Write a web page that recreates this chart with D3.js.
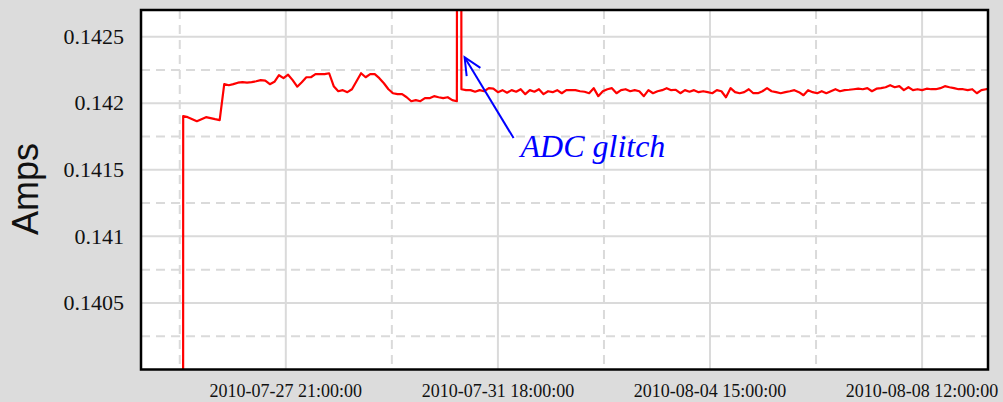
<!DOCTYPE html>
<html>
<head>
<meta charset="utf-8">
<script src="https://cdn.jsdelivr.net/npm/d3@7"></script>
<style>
  body { margin: 0; background: #dcdcdc; }
  svg { display: block; }
</style>
</head>
<body>
<svg width="1003" height="402"></svg>
<script>
// readings every 2 hours from 2010-07-25 22:00 (UTC)
const startTime = Date.UTC(2010, 6, 25, 22, 0);
const stepHours = 2;
const amps = [
  0, 0.141903, 0.141895, 0.14188, 0.141865, 0.14188, 0.141895, 0.141888, 0.14188, 0.141873,
  0.142143, 0.142135, 0.142143, 0.142154, 0.142158, 0.142154, 0.142158, 0.142165, 0.142173, 0.142169,
  0.142143, 0.142161, 0.14221, 0.142188, 0.142214, 0.142173, 0.142124, 0.142158, 0.142195, 0.142195,
  0.142218, 0.142218, 0.142218, 0.142225, 0.142128, 0.14209, 0.142098, 0.142083, 0.142105, 0.142165,
  0.142225, 0.142195, 0.142218, 0.142218, 0.142188, 0.14215, 0.142105, 0.142075, 0.142068, 0.142068,
  0.142045, 0.142015, 0.142023, 0.142015, 0.142038, 0.142038, 0.142053, 0.142045, 0.142038, 0.142045,
  0.142023, 0.142015, 0.142105, 0.142098, 0.142098, 0.142086, 0.142098, 0.14209, 0.142113, 0.142109,
  0.142083, 0.142098, 0.142079, 0.142098, 0.142086, 0.142105, 0.142068, 0.142098, 0.142086, 0.142105,
  0.142068, 0.14209, 0.142083, 0.142098, 0.142075, 0.142098, 0.142098, 0.142098, 0.14209, 0.142086,
  0.142075, 0.142113, 0.142053, 0.14209, 0.142105, 0.142113, 0.142075, 0.142098, 0.142105, 0.14209,
  0.142098, 0.14209, 0.142053, 0.142098, 0.142075, 0.14209, 0.142098, 0.142113, 0.142098, 0.142101,
  0.142075, 0.142098, 0.142086, 0.142098, 0.142083, 0.14209, 0.142083, 0.142075, 0.142098, 0.14209,
  0.142045, 0.142113, 0.142083, 0.142075, 0.142083, 0.142105, 0.142075, 0.142075, 0.14209, 0.142113,
  0.14209, 0.142083, 0.142075, 0.142083, 0.14209, 0.142098, 0.142083, 0.14206, 0.142098, 0.142083,
  0.142075, 0.14209, 0.142075, 0.14209, 0.142105, 0.14209, 0.142098, 0.142101, 0.142105, 0.142109,
  0.142105, 0.142113, 0.14209, 0.142109, 0.142113, 0.14212, 0.142135, 0.14212, 0.142128, 0.142098,
  0.14212, 0.142098, 0.142105, 0.142098, 0.142109, 0.142105, 0.142105, 0.142113, 0.142128, 0.14212,
  0.142113, 0.142105, 0.142105, 0.142098, 0.142105, 0.142075, 0.142098, 0.142105, 0.142105
];
// the single bad reading between two regular ones
const glitchTime = Date.UTC(2010, 6, 31, 1, 0);
const glitchValue = 0.16;

const xDomain = [Date.UTC(2010, 6, 25, 5, 30), Date.UTC(2010, 7, 9, 16, 54)];
const xTicks = [Date.UTC(2010, 6, 27, 21), Date.UTC(2010, 6, 31, 18), Date.UTC(2010, 7, 4, 15), Date.UTC(2010, 7, 8, 12)];
const xMinor = [Date.UTC(2010, 6, 25, 22, 30), Date.UTC(2010, 6, 29, 19, 30), Date.UTC(2010, 7, 2, 16, 30), Date.UTC(2010, 7, 6, 13, 30)];
const yDomain = [0.14, 0.1427];
const yTicks = [0.1405, 0.141, 0.1415, 0.142, 0.1425];
const yMinor = [0.14025, 0.14075, 0.14125, 0.14175, 0.14225];

const noteText = 'ADC glitch';
const noteTip = [Date.UTC(2010, 6, 31, 3, 24), 0.142345];
const noteTail = [Date.UTC(2010, 7, 1, 0, 52), 0.141738];
const notePos = [Date.UTC(2010, 7, 1, 3, 54), 0.141595];

const svg = d3.select('svg');
const plotL = 141, plotR = 988, plotT = 10, plotB = 369.5;

const x = d3.scaleUtc().domain(xDomain).range([plotL, plotR]);
const y = d3.scaleLinear().domain(yDomain).range([plotB, plotT]);

svg.append('rect')
    .attr('x', plotL).attr('y', plotT)
    .attr('width', plotR - plotL).attr('height', plotB - plotT)
    .attr('fill', 'white');

svg.append('clipPath').attr('id', 'plot')
    .append('rect')
    .attr('x', plotL).attr('y', plotT)
    .attr('width', plotR - plotL).attr('height', plotB - plotT);

const grid = svg.append('g').attr('stroke', '#dadada').attr('stroke-width', 2);

grid.selectAll('line.ymaj').data(yTicks).join('line')
    .attr('x1', plotL).attr('x2', plotR)
    .attr('y1', d => y(d)).attr('y2', d => y(d));
grid.selectAll('line.ymin').data(yMinor).join('line')
    .attr('x1', plotL).attr('x2', plotR)
    .attr('y1', d => y(d)).attr('y2', d => y(d))
    .attr('stroke-dasharray', '9 6');
grid.selectAll('line.xmaj').data(xTicks).join('line')
    .attr('x1', d => x(d)).attr('x2', d => x(d))
    .attr('y1', plotT).attr('y2', plotB);
grid.selectAll('line.xmin').data(xMinor).join('line')
    .attr('x1', d => x(d)).attr('x2', d => x(d))
    .attr('y1', plotT).attr('y2', plotB)
    .attr('stroke-dasharray', '9 6');

const points = amps.map((v, i) => [startTime + i * stepHours * 3600 * 1000, v]);
points.push([glitchTime, glitchValue]);
points.sort((a, b) => a[0] - b[0]);

svg.append('path')
    .datum(points)
    .attr('clip-path', 'url(#plot)')
    .attr('fill', 'none')
    .attr('stroke', '#ff0000')
    .attr('stroke-width', 2.2)
    .attr('stroke-linejoin', 'round')
    .attr('d', d3.line().x(d => x(d[0])).y(d => y(d[1])));

svg.append('rect')
    .attr('x', plotL).attr('y', plotT)
    .attr('width', plotR - plotL).attr('height', plotB - plotT)
    .attr('fill', 'none')
    .attr('stroke', 'black')
    .attr('stroke-width', 2.5);

// tick labels
svg.append('g').selectAll('text').data(yTicks).join('text')
    .attr('x', 124)
    .attr('y', d => y(d))
    .attr('dy', '0.33em')
    .attr('text-anchor', 'end')
    .attr('font-family', 'Liberation Serif, Times New Roman, serif')
    .attr('font-size', 22)
    .attr('fill', '#111')
    .text(d => d);

svg.append('g').selectAll('text').data(xTicks).join('text')
    .attr('x', d => x(d))
    .attr('y', 397)
    .attr('text-anchor', 'middle')
    .attr('font-family', 'Liberation Serif, Times New Roman, serif')
    .attr('font-size', 18)
    .attr('fill', '#111')
    .text(d => d3.utcFormat('%Y-%m-%d %H:%M:%S')(new Date(d)));

svg.append('text')
    .attr('transform', 'translate(38, 189) rotate(-90)')
    .attr('text-anchor', 'middle')
    .attr('font-family', 'Liberation Sans, Arial, sans-serif')
    .attr('font-size', 36)
    .attr('fill', '#111')
    .text('Amps');

// annotation
const tip = [x(noteTip[0]), y(noteTip[1])];
const tail = [x(noteTail[0]), y(noteTail[1])];
const ang = Math.atan2(tail[1] - tip[1], tail[0] - tip[0]);
const headLen = 19, spread = 25 * Math.PI / 180;
const wing = s => [tip[0] + headLen * Math.cos(ang + s), tip[1] + headLen * Math.sin(ang + s)];

const note = svg.append('g').attr('stroke', '#0000ff').attr('stroke-width', 2).attr('fill', 'none');
note.append('line')
    .attr('x1', tail[0]).attr('y1', tail[1])
    .attr('x2', tip[0]).attr('y2', tip[1]);
note.append('path')
    .attr('d', d3.line()([wing(spread), tip, wing(-spread)]));

svg.append('text')
    .attr('x', x(notePos[0]))
    .attr('y', y(notePos[1]))
    .attr('font-family', 'Liberation Serif, Times New Roman, serif')
    .attr('font-style', 'italic')
    .attr('font-size', 32)
    .attr('fill', '#0000ff')
    .text(noteText);
</script>
</body>
</html>
